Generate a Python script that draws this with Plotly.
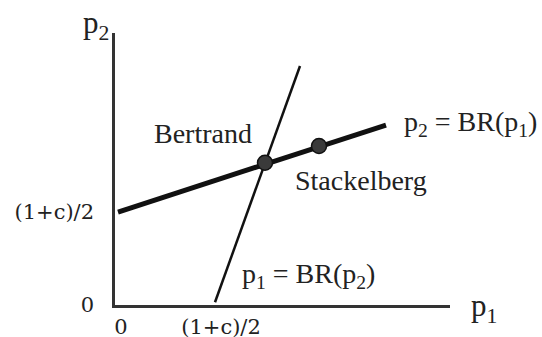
import plotly.graph_objects as go

# Best-response lines (p1 in units of (1+c)/2)
br2_p1 = [0.03, 2.71]
br2_p2 = [1.00, 1.935]
br1_p1 = [1.00, 1.85]
br1_p2 = [0.03, 2.57]

# Equilibria
eq_names = ["Bertrand", "Stackelberg"]
eq_p1 = [1.50, 2.04]
eq_p2 = [1.53, 1.71]

x_tickvals = [0, 1]
x_ticktext = ["0", "(1+c)/2"]
y_tickvals = [0, 1]
y_ticktext = ["0", "(1+c)/2"]

serif = "Liberation Serif, Times New Roman, serif"
tick_font = dict(family="DejaVu Serif, serif", size=21, color="#222")
txt = "#222"

fig = go.Figure()
fig.add_trace(go.Scatter(x=br2_p1, y=br2_p2, mode="lines",
                         line=dict(color="#111", width=5), hoverinfo="skip"))
fig.add_trace(go.Scatter(x=br1_p1, y=br1_p2, mode="lines",
                         line=dict(color="#111", width=2.5), hoverinfo="skip"))
fig.add_trace(go.Scatter(x=eq_p1, y=eq_p2, mode="markers", text=eq_names,
                         marker=dict(size=15, color="#3a3a3a",
                                     line=dict(color="#111", width=1.5))))

annotations = [
    dict(xref="paper", yref="paper", x=-0.057, y=1.03, text="p<sub>2</sub>",
         font=dict(family=serif, size=31, color=txt)),
    dict(xref="paper", yref="paper", x=1.10, y=-0.01, text="p<sub>1</sub>",
         font=dict(family=serif, size=31, color=txt)),
    dict(x=0.88, y=1.84, text="Bertrand", font=dict(family=serif, size=28, color=txt)),
    dict(x=2.46, y=1.34, text="Stackelberg", font=dict(family=serif, size=28, color=txt)),
    dict(x=2.87, y=1.95, text="p<sub>2</sub> = BR(p<sub>1</sub>)", xanchor="left",
         font=dict(family=serif, size=28, color=txt)),
    dict(x=1.25, y=0.32, text="p<sub>1</sub> = BR(p<sub>2</sub>)", xanchor="left",
         font=dict(family=serif, size=28, color=txt)),
]
for a in annotations:
    a.setdefault("xanchor", "center")
    a.setdefault("xref", "x")
    a.setdefault("yref", "y")
    a.update(showarrow=False, yanchor="middle")

fig.update_layout(
    width=542, height=337,
    margin=dict(l=115, r=92, t=33, b=32, autoexpand=False),
    paper_bgcolor="white", plot_bgcolor="white",
    showlegend=False,
    annotations=annotations,
    xaxis=dict(range=[0, 3.35], showgrid=False, zeroline=False, automargin=False,
               showline=True, linecolor="#333", linewidth=2.5,
               tickvals=x_tickvals, ticktext=x_ticktext, ticks="",
               tickfont=tick_font, ticklabelstandoff=1, ticklabelshift=6),
    yaxis=dict(range=[0, 2.925], showgrid=False, zeroline=False, automargin=False,
               showline=True, linecolor="#333", linewidth=2.5,
               tickvals=y_tickvals, ticktext=y_ticktext, ticks="",
               tickfont=tick_font, ticklabelstandoff=14),
)

fig.write_html("out.html", config={"displayModeBar": False},
               post_script="document.body.style.margin='0';document.body.style.padding='0';")
